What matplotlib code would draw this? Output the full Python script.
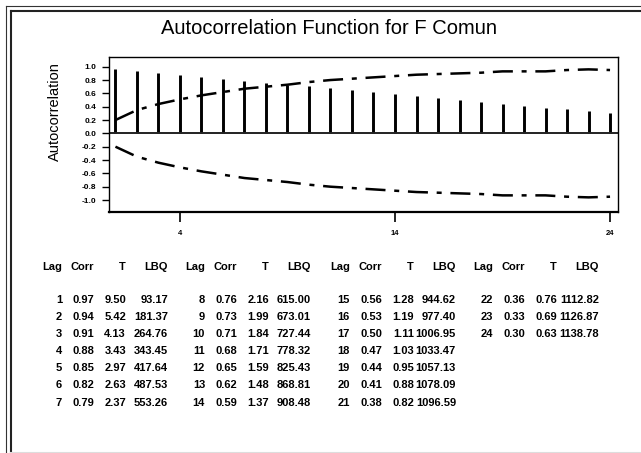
import numpy as np
import matplotlib
matplotlib.use("Agg")
import matplotlib.pyplot as plt
from matplotlib.lines import Line2D

plt.rcParams['font.family'] = ['Liberation Sans', 'DejaVu Sans']

# ACF output
lags = list(range(1, 25))
corr = [0.97, 0.94, 0.91, 0.88, 0.85, 0.82, 0.79, 0.76, 0.73, 0.71, 0.68, 0.65,
        0.62, 0.59, 0.56, 0.53, 0.50, 0.47, 0.44, 0.41, 0.38, 0.36, 0.33, 0.30]
tval = [9.50, 5.42, 4.13, 3.43, 2.97, 2.63, 2.37, 2.16, 1.99, 1.84, 1.71, 1.59,
        1.48, 1.37, 1.28, 1.19, 1.11, 1.03, 0.95, 0.88, 0.82, 0.76, 0.69, 0.63]
lbq = [93.17, 181.37, 264.76, 343.45, 417.64, 487.53, 553.26, 615.00, 673.01,
       727.44, 778.32, 825.43, 868.81, 908.48, 944.62, 977.40, 1006.95, 1033.47,
       1057.13, 1078.09, 1096.59, 1112.82, 1126.87, 1138.78]
# upper confidence limit (lower one is the mirror)
limit = [0.20, 0.35, 0.44, 0.51, 0.57, 0.62, 0.67, 0.70, 0.73, 0.77, 0.80, 0.82,
         0.84, 0.86, 0.88, 0.89, 0.90, 0.91, 0.93, 0.93, 0.93, 0.95, 0.96, 0.95]
yticks = [1.0, 0.8, 0.6, 0.4, 0.2, 0.0, -0.2, -0.4, -0.6, -0.8, -1.0]
xticks = [4, 14, 24]

W, H = 641, 453
def fx(x):
    return x / W
def fy(y):
    return 1 - y / H

fig = plt.figure(figsize=(W / 100, H / 100), dpi=100)

# scanned page frame
fig.add_artist(Line2D([fx(6), fx(6)], [fy(6), 0], color='#333333', lw=0.8))
fig.add_artist(Line2D([fx(6), 1], [fy(6), fy(6)], color='#333333', lw=0.8))
fig.add_artist(Line2D([fx(10.5), fx(10.5)], [fy(11), 0], color='#222222', lw=1.5))
fig.add_artist(Line2D([fx(10.5), 1], [fy(11), fy(11)], color='#222222', lw=1.5))
fig.add_artist(Line2D([fx(10), 1], [fy(452), fy(452)], color='#dddddd', lw=0.8))

fig.text(fx(329), fy(28), 'Autocorrelation Function for F Comun',
         ha='center', va='center', fontsize=14.5)

x0, x1, y0, y1 = 109, 618, 56.7, 211.7
ax = fig.add_axes([fx(x0), fy(y1), fx(x1 - x0), (y1 - y0) / H])
ax.vlines(lags, 0, corr, color='black', lw=2.1)
ax.axhline(0, color='#222222', lw=1.4)
lim = np.array(limit)
ax.plot(lags, lim, color='black', lw=1.8, dashes=(8, 3.5, 2, 3.5))
ax.plot(lags, -lim, color='black', lw=1.8, dashes=(8, 3.5, 2, 3.5))
ax.set_xlim(0.70, 24.37)
ax.set_ylim(-1.175, 1.15)
ax.set_xticks(xticks)
ax.set_xticklabels([str(t) for t in xticks], fontsize=5.5, fontweight='bold')
ax.set_yticks(yticks)
ax.set_yticklabels(['%.1f' % t for t in yticks], fontsize=6, fontweight='bold')
ax.tick_params(axis='y', length=5, width=1, pad=4)
ax.tick_params(axis='x', length=7, width=1.2, pad=6)
for s in ax.spines.values():
    s.set_linewidth(1.0)
ax.spines['bottom'].set_linewidth(1.6)
fig.text(fx(55), fy(112), 'Autocorrelation', rotation=90, ha='center',
         va='center', fontsize=10.5)

# table of values
group_x = [62, 205, 350, 493]
col_off = [0, 32, 64, 106]
header = ['Lag', 'Corr', 'T', 'LBQ']
hdr_y = 267
row_y0 = 300
row_dy = 17.1
tkw = dict(ha='right', va='center', fontsize=8, fontweight='bold')
for g, gx in enumerate(group_x):
    for h, off in zip(header, col_off):
        fig.text(fx(gx + off), fy(hdr_y), h, **tkw)
    for r in range(7):
        i = g * 7 + r
        if i >= len(lags):
            break
        y = fy(row_y0 + r * row_dy)
        fig.text(fx(gx + col_off[0]), y, str(lags[i]), **tkw)
        fig.text(fx(gx + col_off[1]), y, '%.2f' % corr[i], **tkw)
        fig.text(fx(gx + col_off[2]), y, '%.2f' % tval[i], **tkw)
        fig.text(fx(gx + col_off[3]), y, '%.2f' % lbq[i], **tkw)

fig.savefig('out.png', dpi=100)
